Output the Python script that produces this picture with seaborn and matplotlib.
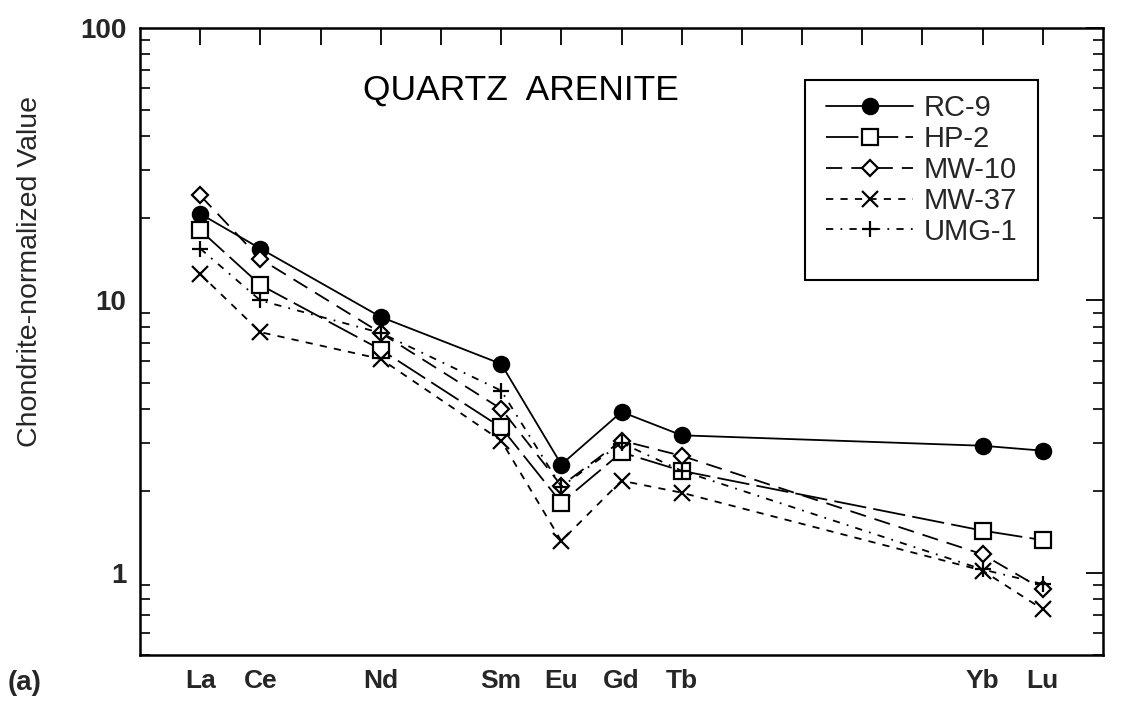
import matplotlib
matplotlib.use("Agg")
import matplotlib.pyplot as plt
import seaborn as sns
import pandas as pd
from matplotlib.patches import Rectangle
from matplotlib.ticker import FixedLocator, FixedFormatter, LogLocator, NullFormatter

# ---- data ----
elements = ["La", "Ce", "Nd", "Sm", "Eu", "Gd", "Tb", "Yb", "Lu"]
atomic_numbers = [57, 58, 60, 62, 63, 64, 65, 70, 71]
all_tick_numbers = list(range(57, 72))

samples = ["RC-9", "HP-2", "MW-10", "MW-37", "UMG-1"]
rc9 = [20.8, 15.5, 8.7, 5.85, 2.5, 3.9, 3.2, 2.93, 2.81]
hp2 = [18.1, 11.4, 6.6, 3.42, 1.81, 2.77, 2.37, 1.43, 1.32]
mw10 = [24.3, 14.2, 7.6, 4.0, 2.09, 3.06, 2.69, 1.17, 0.87]
mw37 = [12.5, 7.65, 6.1, 3.06, 1.31, 2.18, 1.97, 1.02, 0.735]
umg1 = [15.5, 10.0, 7.6, 4.67, 2.07, 3.0, 2.37, 1.03, 0.91]
series_values = [rc9, hp2, mw10, mw37, umg1]

y_ticks = [1, 10, 100]
y_tick_labels = ["1", "10", "100"]

# ---- style ----
sns.set_style("white")
plt.rcParams["font.family"] = ["Liberation Sans", "DejaVu Sans"]

fig = plt.figure(figsize=(11.22, 7.09), dpi=100)
ax = fig.add_axes([0.1248, 0.0762, 0.8583, 0.8843])

line_styles = {
    "RC-9": dict(marker="o", markersize=11, markerfacecolor="black", linestyle="-"),
    "HP-2": dict(marker="s", markersize=11, markerfacecolor="white", linestyle=(0, (18, 4))),
    "MW-10": dict(marker="D", markersize=8, markerfacecolor="white", linestyle=(0, (9, 5))),
    "MW-37": dict(marker="x", markersize=11, markerfacecolor="black", linestyle=(0, (4, 4))),
    "UMG-1": dict(marker="+", markersize=12, markerfacecolor="black", linestyle=(0, (4, 4, 1, 4))),
}

for name, vals in zip(samples, series_values):
    df = pd.DataFrame({"z": atomic_numbers, "v": vals})
    st = line_styles[name]
    sns.lineplot(data=df, x="z", y="v", ax=ax, color="black", linewidth=1.3,
                 marker=st["marker"], markersize=st["markersize"],
                 markerfacecolor=st["markerfacecolor"], markeredgecolor="black",
                 markeredgewidth=1.6, linestyle=st["linestyle"], label=name)

ax.set_yscale("log")
ax.set_ylim(0.5, 100)
ax.set_xlim(56, 72)

ax.yaxis.set_major_locator(FixedLocator(y_ticks))
ax.yaxis.set_major_formatter(FixedFormatter(y_tick_labels))
ax.yaxis.set_minor_locator(LogLocator(base=10, subs=[2, 3, 4, 5, 6, 7, 8, 9]))
ax.yaxis.set_minor_formatter(NullFormatter())

xlabels = []
for z in all_tick_numbers:
    xlabels.append(elements[atomic_numbers.index(z)] if z in atomic_numbers else "")
ax.set_xticks(all_tick_numbers)
ax.set_xticklabels(xlabels)

ax.tick_params(axis="both", which="major", direction="in", top=True, right=True,
               length=12, width=1.3, color="black")
ax.tick_params(axis="y", which="minor", direction="in", left=True, right=True,
               length=7, width=1.2, color="black")
ax.tick_params(axis="x", which="major", labelsize=19, pad=10)
ax.tick_params(axis="y", which="major", labelsize=20, pad=10)
for lab in ax.get_xticklabels() + ax.get_yticklabels():
    lab.set_fontweight("bold")

for sp in ax.spines.values():
    sp.set_visible(True)
    sp.set_color("black")
    sp.set_linewidth(1.8)

ax.set_xlabel("")
ax.set_ylabel("Chondrite-normalized Value", fontsize=20.5)
ax.yaxis.set_label_coords(-0.101, 0.612)

ax.text(0.396, 0.901, "QUARTZ  ARENITE", transform=ax.transAxes, fontsize=25.5,
        ha="center", va="center", color="black")

leg = ax.legend(loc="upper left", bbox_to_anchor=(0.697, 0.918), frameon=False,
                fontsize=21, handlelength=3.0, handletextpad=0.35,
                labelspacing=0.1, borderpad=0.0)
ax.add_patch(Rectangle((0.69, 0.598), 0.9325 - 0.69, 0.917 - 0.598,
                       transform=ax.transAxes, fill=False, edgecolor="black",
                       linewidth=1.5, zorder=5))

fig.text(0.022, 0.037, "(a)", fontsize=20, fontweight="bold", ha="center", va="center")

fig.savefig("out.png", dpi=100, facecolor="white")
